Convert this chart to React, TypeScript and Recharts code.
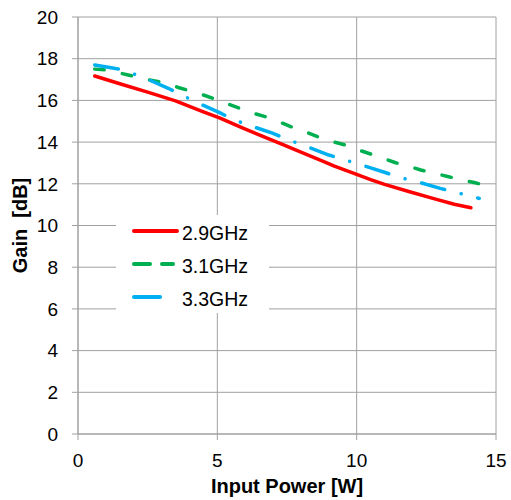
import {
  CartesianGrid,
  Legend,
  Line,
  LineChart,
  XAxis,
  YAxis,
} from "recharts";

const power29 = [0.6, 1.5, 2.5, 3.5, 4.5, 5.1, 5.9, 6.5, 7.4, 8.0, 8.8, 9.2, 10.0, 10.5, 11.0, 11.9, 12.8, 13.5, 14.1];
const gain29 = [17.17, 16.8, 16.4, 15.98, 15.45, 15.15, 14.68, 14.35, 13.85, 13.52, 13.08, 12.85, 12.45, 12.2, 11.97, 11.62, 11.28, 11.02, 10.85];

const power31 = [0.6, 1.0, 1.45, 1.8, 2.3, 3.18, 3.6, 4.1, 4.5, 5.0, 5.9, 6.3, 6.8, 7.2, 7.7, 8.15, 8.6, 9.05, 9.6, 10.0, 10.5, 10.9, 11.4, 11.85, 12.3, 12.8, 13.3, 13.8, 14.25, 14.7];
const gain31 = [17.5, 17.46, 17.33, 17.22, 17.05, 16.82, 16.62, 16.42, 16.26, 16.02, 15.57, 15.38, 15.19, 14.98, 14.71, 14.5, 14.26, 14.05, 13.86, 13.65, 13.43, 13.25, 13.01, 12.85, 12.66, 12.5, 12.34, 12.18, 12.05, 11.9];

const power33 = [0.6, 1.03, 1.5, 1.93, 2.28, 3.24, 3.72, 4.2, 5.1, 5.57, 6.11, 7.0, 7.55, 8.08, 9.0, 9.52, 10.06, 11.02, 11.53, 12.03, 13.0, 13.56, 14.06, 14.4];
const gain33 = [17.7, 17.6, 17.5, 17.3, 17.14, 16.58, 16.26, 15.94, 15.4, 15.09, 14.82, 14.42, 14.1, 13.86, 13.38, 13.17, 12.95, 12.54, 12.31, 12.15, 11.78, 11.59, 11.42, 11.3];

const xTicks = [0, 5, 10, 15];
const yTicks = [0, 2, 4, 6, 8, 10, 12, 14, 16, 18, 20];

const seriesNames = ["2.9GHz", "3.1GHz", "3.3GHz"];

const toRows = (xs: number[], ys: number[]) =>
  xs.map((p, i) => ({ power: p, gain: ys[i] }));

const data29 = toRows(power29, gain29);
const data31 = toRows(power31, gain31);
const data33 = toRows(power33, gain33);

const FONT = "'Liberation Sans', Arial, sans-serif";
const GRID = "#a0a0a0";

function LegendBox() {
  return (
    <div style={{ background: "#fff", width: 153, height: 98 }}>
      <svg width={153} height={98} style={{ display: "block" }}>
        <line x1={18} x2={61} y1={16} y2={16} stroke='#ff0000' strokeWidth={4} strokeLinecap='round' />
        <line x1={18} x2={57} y1={49} y2={49} stroke='#00b050' strokeWidth={4} strokeLinecap='round' strokeDasharray='16 12' />
        <line x1={18} x2={60} y1={82} y2={82} stroke='#00b0f0' strokeWidth={4} strokeLinecap='round' strokeDasharray='26 16 0.1 100' />
        {seriesNames.map((name, i) => (
          <text key={name} x={66} y={16 + i * 33 + 8.5} fontSize={19.5} fontFamily={FONT} fill='#000'>
            {name}
          </text>
        ))}
      </svg>
    </div>
  );
}

export default function App() {
  return (
    <div style={{ position: "absolute", left: 0, top: 0, background: "#fff" }}>
      <LineChart
        width={511}
        height={500}
        margin={{ top: 17, right: 15, bottom: 0, left: 0 }}>
        <CartesianGrid stroke={GRID} strokeWidth={1} />
        <XAxis
          dataKey='power'
          type='number'
          domain={[0, 15]}
          ticks={xTicks}
          height={66}
          tickSize={6}
          tickMargin={14}
          stroke={GRID}
          tick={{ fill: "#000", fontSize: 19, fontFamily: FONT }}
          label={{
            value: "Input Power [W]",
            position: "insideBottom",
            offset: 7,
            style: { fill: "#000", fontSize: 20, fontWeight: "bold", fontFamily: FONT },
          }}
        />
        <YAxis
          type='number'
          domain={[0, 20]}
          ticks={yTicks}
          width={78}
          tickSize={6}
          tickMargin={14}
          stroke={GRID}
          tick={{ fill: "#000", fontSize: 19, fontFamily: FONT }}
          label={{
            value: "Gain\u00a0 [dB]",
            angle: -90,
            position: "insideLeft",
            offset: 20,
            style: { fill: "#000", fontSize: 20, fontWeight: "bold", fontFamily: FONT, textAnchor: "middle" },
          }}
        />
        <Line
          data={data29}
          dataKey='gain'
          name={seriesNames[0]}
          type='linear'
          stroke='#ff0000'
          strokeWidth={3.5}
          strokeLinecap='round'
          strokeLinejoin='round'
          dot={false}
          isAnimationActive={false}
        />
        <Line
          data={data31}
          dataKey='gain'
          name={seriesNames[1]}
          type='linear'
          stroke='#00b050'
          strokeWidth={3.5}
          strokeLinecap='round'
          strokeDasharray='9.5 18.5'
          dot={false}
          isAnimationActive={false}
        />
        <Line
          data={data33}
          dataKey='gain'
          name={seriesNames[2]}
          type='linear'
          stroke='#00b0f0'
          strokeWidth={3.5}
          strokeLinecap='round'
          strokeDasharray='24 17 0.1 17'
          dot={false}
          isAnimationActive={false}
        />
        <Legend
          layout='vertical'
          align='center'
          verticalAlign='middle'
          content={() => <LegendBox />}
          wrapperStyle={{ left: 116, top: 215, width: 153, height: 98 }}
        />
      </LineChart>
    </div>
  );
}
